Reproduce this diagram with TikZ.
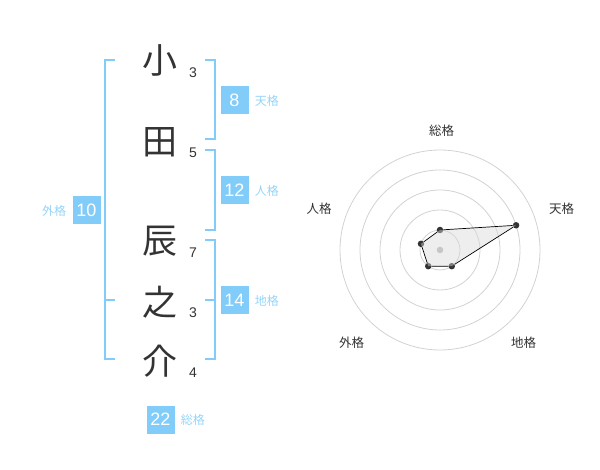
\documentclass[tikz,border=0pt]{standalone}
\usepackage{fontspec}
\setmainfont{Liberation Sans}
\newfontfamily\jp{Noto Sans CJK JP}
\usetikzlibrary{positioning}
\definecolor{kblue}{RGB}{130,204,250}
\definecolor{klight}{RGB}{150,212,248}
\definecolor{kdark}{RGB}{51,51,51}
\definecolor{kring}{RGB}{210,210,210}

\begin{document}
\begin{tikzpicture}[x=1pt, y=-1pt, kbox/.style={fill=kblue,text=white,minimum size=28pt,
		inner sep=0pt,font=\fontsize{18}{18}\selectfont},
	klab/.style={text=klight,font=\jp\fontsize{12}{12}\selectfont,inner sep=0pt},
	kchar/.style={text=kdark,font=\jp\fontsize{35}{35}\selectfont,inner sep=0pt},
	knum/.style={text=kdark,font=\fontsize{14}{14}\selectfont,inner sep=0pt},
	rlab/.style={text=kdark,font=\jp\fontsize{12.5}{12.5}\selectfont,inner sep=0pt},
	brk/.style={draw=kblue,line width=1.6pt},
	dot/.style={circle,fill=kdark,inner sep=0pt,minimum size=6.5pt}]
	\useasboundingbox (0,0) rectangle (600,470);
	% name
	\node[kchar] (c1) at (160,60) {小};
	\node[kchar] (c2) at (160,142) {田};
	\node[kchar] (c3) at (160,241) {辰};
	\node[kchar] (c4) at (160,302) {之};
	\node[kchar] (c5) at (160,361) {介};
	\node[knum] (n1) at (193,73) {3};
	\node[knum] (n2) at (193,153) {5};
	\node[knum] (n3) at (193,253) {7};
	\node[knum] (n4) at (193,313) {3};
	\node[knum] (n5) at (193,373) {4};
	% brackets
	\draw[brk] (115,60) -- (105,60) -- (105,359) -- (115,359);
	\draw[brk] (105,300) -- (115,300);
	\draw[brk] (205,60) -- (215,60) -- (215,139) -- (205,139);
	\draw[brk] (205,150) -- (215,150) -- (215,230) -- (205,230);
	\draw[brk] (205,240) -- (215,240) -- (215,359) -- (205,359);
	\draw[brk] (205,300) -- (215,300);
	% scores
	\node[kbox] (ten) at (234.5,100.5) {8};
	\node[klab,right=6pt of ten] (tenl) {天格};
	\node[kbox] (jin) at (234.5,190.5) {12};
	\node[klab,right=6pt of jin] (jinl) {人格};
	\node[kbox] (chi) at (234.5,300.5) {14};
	\node[klab,right=6pt of chi] (chil) {地格};
	\node[kbox] (gai) at (86.5,210.5) {10};
	\node[klab,left=6pt of gai] (gail) {外格};
	\node[kbox] (sou) at (160.5,419.5) {22};
	\node[klab,right=6pt of sou] (soul) {総格};
	% radar
	\begin{scope}[shift={(440,250)}, y=1pt]
		\foreach \r in {20,40,...,100}
			\draw[kring,line width=0.8pt] (0,0) circle (\r);
		\node[dot] (p1) at (90:20) {};
		\node[dot] (p2) at (18:80) {};
		\node[dot] (p3) at (-54:20) {};
		\node[dot] (p4) at (-126:20) {};
		\node[dot] (p5) at (162:20) {};
		\fill[black!15,opacity=0.45] (p1.center) -- (p2.center) -- (p3.center)
			-- (p4.center) -- (p5.center) -- cycle;
		\draw[black,line width=0.7pt] (p1) -- (p2) -- (p3) -- (p4) -- (p5) -- (p1);
		\fill[black!22] (0,0) circle (3.3);
	\end{scope}
	\node[rlab] (r1) at (441.5,130.5) {総格};
	\node[rlab] (r2) at (561.5,208.5) {天格};
	\node[rlab] (r3) at (523.5,342.5) {地格};
	\node[rlab] (r4) at (351.5,342.5) {外格};
	\node[rlab] (r5) at (319,208.5) {人格};
\end{tikzpicture}
\end{document}
